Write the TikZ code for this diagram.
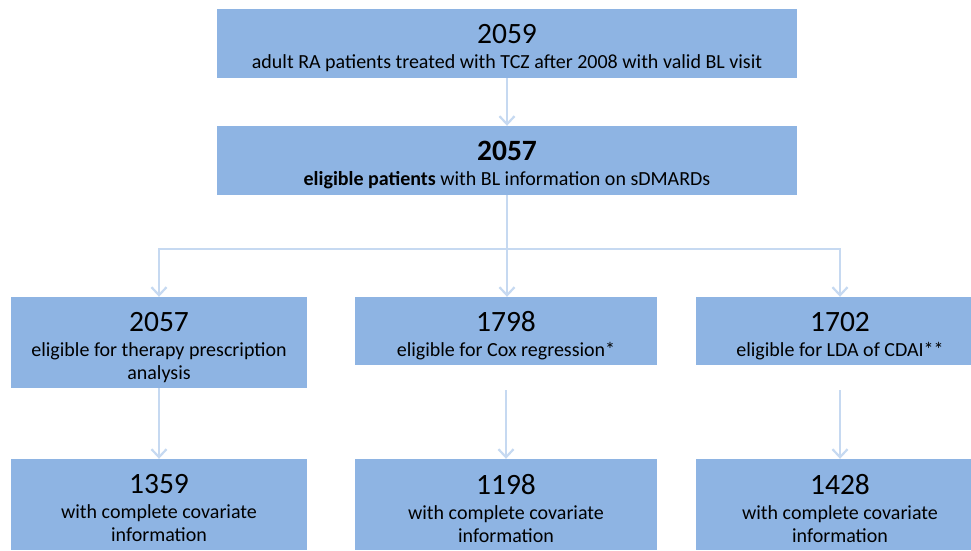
\documentclass[tikz,border=0pt]{standalone}
\usepackage{fontspec}
\setmainfont{Carlito}
\usetikzlibrary{arrows.meta}
\definecolor{boxblue}{HTML}{8EB4E3}
\definecolor{linkblue}{HTML}{C6D9F1}
\newcommand{\numtxt}[1]{{\fontsize{29.5}{31}\selectfont #1}}
\begin{document}
\begin{tikzpicture}[x=1pt,y=-1pt,
  box/.style={fill=boxblue, draw=none, inner sep=0pt},
  lbl/.style={inner sep=0pt, align=center, font=\fontsize{20}{23}\selectfont},
  link/.style={draw=linkblue, line width=2.6pt},
  conn/.style={link, -{Straight Barb[length=8pt,width=15pt,line width=2.2pt]}}]
\useasboundingbox (0,0) rectangle (971,550);
\clip (0,0) rectangle (971,550);

% top stages
\node[box, minimum width=580pt, minimum height=69pt] (all) at (507,43.5) {};
\node[box, minimum width=580pt, minimum height=69pt] (elig) at (507,160.5) {};
% analysis populations
\node[box, minimum width=296pt, minimum height=91pt] (ther) at (159,342.5) {};
\node[box, minimum width=302pt, minimum height=68pt] (cox) at (506,331) {};
\node[box, minimum width=288pt, minimum height=68pt] (lda) at (840,331) {};
% complete covariate subsets
\node[box, minimum width=296pt, minimum height=91pt] (therc) at (159,504.5) {};
\node[box, minimum width=302pt, minimum height=91pt] (coxc) at (506,504.5) {};
\node[box, minimum width=288pt, minimum height=91pt] (ldac) at (840,504.5) {};

% box texts
\node[lbl] (allt) at ([yshift=-5pt]all.center)
  {\numtxt{2059}\\[2pt]adult RA patients treated with TCZ after 2008 with valid BL visit};
\node[lbl] (eligt) at ([yshift=-5pt]elig.center)
  {\numtxt{\bfseries 2057}\\[2pt]\textbf{eligible patients} with BL information on sDMARDs};
\node[lbl] (thert) at ([yshift=-5pt]ther.center)
  {\numtxt{2057}\\[2pt]eligible for therapy prescription\\analysis};
\node[lbl] (coxt) at ([yshift=-5pt]cox.center)
  {\numtxt{1798}\\[2pt]eligible for Cox regression*};
\node[lbl] (ldat) at ([yshift=-5pt]lda.center)
  {\numtxt{1702}\\[2pt]eligible for LDA of CDAI**};
\node[lbl] (therct) at ([yshift=-3.5pt]therc.center)
  {\numtxt{1359}\\[2pt]with complete covariate\\information};
\node[lbl] (coxct) at ([yshift=-3.5pt]coxc.center)
  {\numtxt{1198}\\[2pt]with complete covariate\\information};
\node[lbl] (ldact) at ([yshift=-3.5pt]ldac.center)
  {\numtxt{1428}\\[2pt]with complete covariate\\information};

% connectors
\coordinate (split) at (507,249);
\coordinate (coxout) at (506,390);
\coordinate (ldaout) at (840,390);

\draw[conn] (all) -- (elig);
\draw[conn] (elig.south) -- (elig.south |- cox.north);
\draw[conn] (split) -| (ther.north);
\draw[conn] (split) -| (lda.north);
\draw[conn] (ther.south) -- (therc.north);
\draw[conn] (coxout) -- (coxout |- coxc.north);
\draw[conn] (ldaout) -- (ldac.north);
\end{tikzpicture}
\end{document}
